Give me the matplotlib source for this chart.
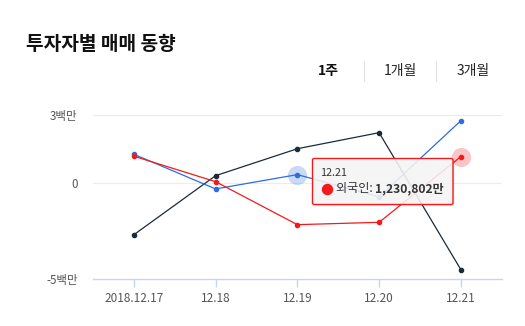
import matplotlib
matplotlib.use("Agg")
import matplotlib.pyplot as plt
from matplotlib.patches import FancyBboxPatch
from matplotlib.lines import Line2D

plt.rcParams['font.family'] = ['Noto Sans CJK KR', 'DejaVu Sans']

# ---- data (unit: 백만 = million of 만원) ----
dates = ["2018.12.17", "12.18", "12.19", "12.20", "12.21"]
individual = [1.34, -0.28, 0.39, -0.65, 2.91]     # 개인 (blue)
foreign = [1.25, 0.06, -1.95, -1.84, 1.23]         # 외국인 (red)
institution = [-2.42, 0.34, 1.60, 2.35, -4.05]     # 기관 (dark)
ytick_vals = [3.2, 0.0, -4.49]
ytick_labels = ["3백만", "0", "-5백만"]
title = "투자자별 매매 동향"
tabs = ["1주", "1개월", "3개월"]
tooltip_date = "12.21"
tooltip_name = "외국인"
tooltip_value = "1,230,802만"

W, H = 525, 326
fig = plt.figure(figsize=(W / 100, H / 100), dpi=100)
fig.patch.set_facecolor("white")

def fx(x):
    return x / W

def fy(y):
    return 1 - y / H

ax_left, ax_right, ax_top, ax_bot = 93, 501.7, 114.5, 279
ax = fig.add_axes([fx(ax_left), fy(ax_bot), (ax_right - ax_left) / W, (ax_bot - ax_top) / H])
ax.set_xlim(-0.5, len(dates) - 0.5)
ax.set_ylim(min(ytick_vals), max(ytick_vals))
for s in ["top", "right", "left"]:
    ax.spines[s].set_visible(False)
ax.spines["bottom"].set_color("#ccd6eb")
ax.spines["bottom"].set_linewidth(1)
ax.set_facecolor("none")

x = list(range(len(dates)))
blue, red, dark = "#2a6ee0", "#f41a1a", "#1c2b38"

for v in ytick_vals[:-1]:
    ax.axhline(v, color="#ececec", lw=0.8, zorder=0)

ax.plot(x, institution, color=dark, lw=0.9, marker="o", ms=3, zorder=3, clip_on=False)
ax.plot(x, individual, color=blue, lw=0.9, marker="o", ms=3, zorder=3, clip_on=False)
ax.plot(x, foreign, color=red, lw=0.9, marker="o", ms=3, zorder=3, clip_on=False)

# hover halos
ax.scatter([2], [individual[2]], s=190, color=blue, alpha=0.25, lw=0, zorder=2, clip_on=False)
ax.scatter([4], [foreign[4]], s=190, color=red, alpha=0.25, lw=0, zorder=2, clip_on=False)

ax.set_xticks(x)
ax.set_xticklabels(dates, fontsize=8.5, color="#555555")
ax.tick_params(axis="x", length=6, width=1, color="#ccd6eb", pad=3.5)
ax.set_yticks(ytick_vals)
ax.set_yticklabels(ytick_labels, fontsize=8.3, color="#555555")
ax.tick_params(axis="y", length=0, pad=11)

# title & tabs
fig.text(fx(26), fy(45), title, fontsize=13.8, fontweight="bold", color="#111111", va="center", ha="left")
fig.text(fx(328.5), fy(71.5), tabs[0], fontsize=10, fontweight="bold", color="#111111", va="center", ha="center")
fig.text(fx(400.5), fy(71.5), tabs[1], fontsize=10, color="#222222", va="center", ha="center")
fig.text(fx(473.5), fy(71.5), tabs[2], fontsize=10, color="#222222", va="center", ha="center")
for sx in (363.7, 436.3):
    fig.add_artist(Line2D([fx(sx), fx(sx)], [fy(61), fy(81)], color="#e3e3e3", lw=0.8))

# tooltip
tx0, ty0, tx1, ty1 = 312.5, 158.5, 453, 204.5
shadow = FancyBboxPatch((fx(tx0 + 1.5), fy(ty1 + 1.5)), (tx1 - tx0) / W, (ty1 - ty0) / H,
                        boxstyle="round,pad=0,rounding_size=0.004", transform=fig.transFigure,
                        facecolor="#000000", alpha=0.08, edgecolor="none", zorder=9)
fig.add_artist(shadow)
box = FancyBboxPatch((fx(tx0), fy(ty1)), (tx1 - tx0) / W, (ty1 - ty0) / H,
                     boxstyle="round,pad=0,rounding_size=0.004", transform=fig.transFigure,
                     facecolor=(0.97, 0.97, 0.97, 0.88), edgecolor=red, lw=1.0, zorder=10)
fig.add_artist(box)
fig.text(fx(320.5), fy(172.5), tooltip_date, fontsize=7.8, color="#333333", va="center", ha="left", zorder=11)
fig.add_artist(Line2D([fx(326.5)], [fy(188.5)], marker="o", ms=7.2, color=red, lw=0, zorder=11))
t1 = fig.text(fx(335.5), fy(188.5), tooltip_name + ": ", fontsize=8.7, color="#333333", va="center", ha="left", zorder=11)
fig.canvas.draw()
bb = t1.get_window_extent()
fig.text(bb.x1 / W, fy(188.5), tooltip_value, fontsize=8.7, fontweight="bold", color="#333333",
         va="center", ha="left", zorder=11)

fig.savefig("out.png", dpi=100, facecolor="white")
